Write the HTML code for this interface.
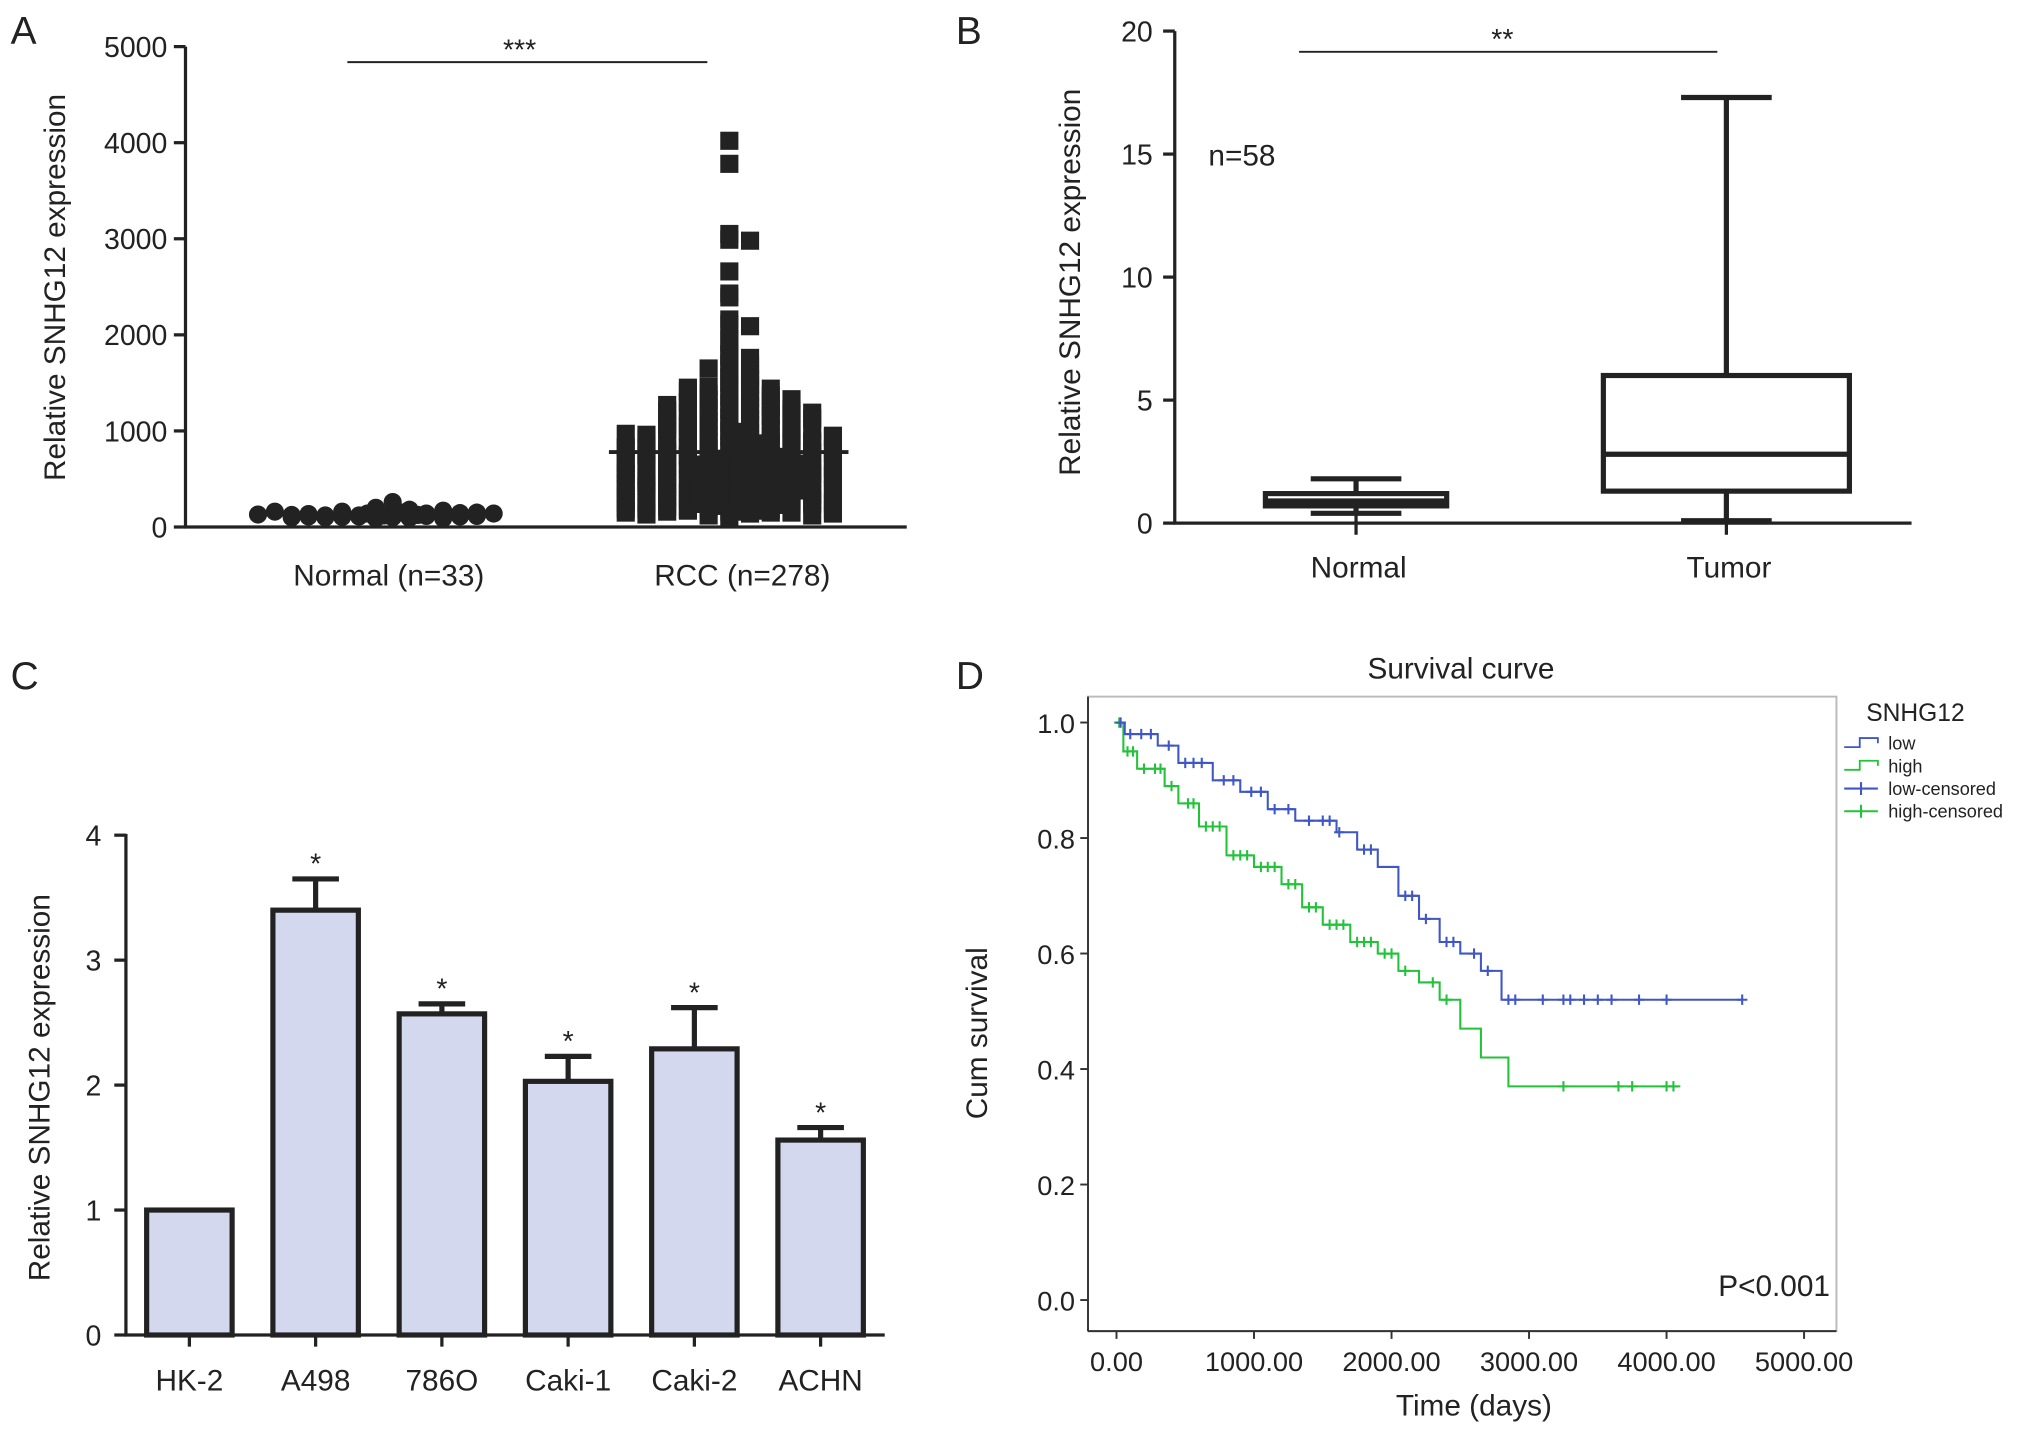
<!DOCTYPE html>
<html><head><meta charset="utf-8"><style>
html,body{margin:0;padding:0;background:#fff}
svg{display:block}
text{font-family:"Liberation Sans",Arial,sans-serif;fill:#222}
</style></head><body>
<svg id="fig" width="2031" height="1436" viewBox="0 0 1568 1109" xmlns="http://www.w3.org/2000/svg">
<g id="A"></g>
<g id="B"></g>
<g id="C"></g>
<g id="D"></g>
</svg>
<script>
// ---- Panel A data ----
const aGroups = ["Normal (n=33)", "RCC (n=278)"];
const aNormal = [150,130,120,180,90,100,160,140,110,200,120,95,105,170,135,115,145,125,260,150,100,90,110,160,140,130,120,150,110,100,140,125,115];
const aRCC = [4020,3780,3050,2990,2980,2660,2430,2390,2160,2110,2090,1960,1920,1800,1780,1760,1700,1680,1650,1620,1580,1560,1540,1500,1480,1460,1440,1420,1400,1380,1360,1340,1320,1300,1280,1260,1240,1220,1200,1180,1160,1140,1120,1100,1080,1060,1040,1020,1000,980,960,940,920,900,880,860,840,820,800,780,760,740,720,700,680,660,640,620,600,580,560,540,520,500,480,460,440,420,400,380,360,340,320,300,280,260,240,220,200,180,160,140,120,100,1300,1250,1150,1050,950,850,750,650,550,450,350,250,150,1290,1190,1090,990,890,790,690,590,490,390,290,190,1230,1130,1030,930,830,730,630,530,430,330,230,1270,1170,970,870,770,670,570,470,370,270,170,1210,1010,910,810,710,610,510,410,310,210,1110,1070,1010,960,870,780,690,600,510,420,330,240,150,820,730,640,550,460,370,280,190,700,610,520,430,340,250,160,120,130,140,150,160,170,180,190,200,210,220,230,240,250,260,270,280,290,300,310,320,330,340,350,360,370,380,390,400,410,420,430,440,450,460,470,480,490,500,510,520,530,540,550,560,570,580,590,600,610,620,630,640,650,660,670,680,690,710,730,750,770,790,810,830,850,870,890,910,930,950,970,990,1130,1190,1330,1370,1410,1450];
const aMedians = [130, 780];
const aYTicks = [0,1000,2000,3000,4000,5000];
// ---- Panel B data ----
const bGroups = ["Normal","Tumor"];
const bMin = [0.4, 0.1];
const bQ1 = [0.7, 1.3];
const bMed = [0.9, 2.8];
const bQ3 = [1.2, 6.0];
const bMax = [1.8, 17.3];
const bYTicks = [0,5,10,15,20];
// ---- Panel C data ----
const cCells = ["HK-2","A498","786O","Caki-1","Caki-2","ACHN"];
const cVals = [1.0,3.4,2.57,2.03,2.29,1.56];
const cErr = [0,0.25,0.08,0.2,0.33,0.1];
const cStar = [false,true,true,true,true,true];
const cYTicks = [0,1,2,3,4];
// ---- Panel D data ----
const dLowT = [0,60,300,450,700,900,1100,1300,1600,1750,1900,2050,2200,2350,2500,2650,2800,4550];
const dLowS = [1.0,0.98,0.96,0.93,0.90,0.88,0.85,0.83,0.81,0.78,0.75,0.70,0.66,0.62,0.60,0.57,0.52,0.52];
const dHighT = [0,50,150,350,450,600,800,1000,1200,1350,1500,1700,1900,2050,2200,2350,2500,2650,2850,4100];
const dHighS = [1.0,0.95,0.92,0.89,0.86,0.82,0.77,0.75,0.72,0.68,0.65,0.62,0.60,0.57,0.55,0.52,0.47,0.42,0.37,0.37];
const dLowCens = [30,100,180,250,380,500,560,620,780,850,980,1050,1150,1250,1400,1500,1550,1620,1800,1850,2100,2150,2250,2400,2450,2600,2700,2850,2900,3100,3250,3300,3400,3500,3600,3800,4000,4550];
const dHighCens = [20,80,120,200,280,320,400,520,560,650,700,750,850,900,950,1050,1100,1150,1250,1300,1400,1450,1550,1600,1650,1750,1800,1850,1950,2000,2100,2300,2400,3250,3650,3750,4000,4050];
const dXTicks = [0,1000,2000,3000,4000,5000];
const dYTicks = [0,0.2,0.4,0.6,0.8,1.0];

const NS="http://www.w3.org/2000/svg";
function mk(parent,tag,attrs,txt){const e=document.createElementNS(NS,tag);for(const k in attrs)e.setAttribute(k,attrs[k]);if(txt!==undefined)e.textContent=txt;parent.appendChild(e);return e;}
function stepVal(T,S,t){let s=S[0];for(let i=0;i<T.length;i++){if(T[i]<=t)s=S[i];}return s;}
function jitter(c,step,ncols){const k=c%ncols;const layer=Math.floor(c/ncols);const off=((k%2)?1:-1)*Math.ceil(k/2)*step;return off+(layer%2?step/2:0);}

// ===== Panel A =====
(function(){
const g=document.getElementById('A');
const y=v=>407-v*(371/5000);
const xc=[290,563];
let t=mk(g,'text',{x:8,y:34,'font-size':30},'A');


let ax=mk(g,'line',{x1:143,y1:36,x2:143,y2:408,stroke:'#222','stroke-width':2.5});


ax=mk(g,'line',{x1:142,y1:407,x2:700,y2:407,stroke:'#222','stroke-width':2.5});


aYTicks.forEach(v=>{
 mk(g,'line',{x1:134,y1:y(v),x2:143,y2:y(v),stroke:'#222','stroke-width':2.5});
 const tl=mk(g,'text',{x:129,y:y(v)+8,'font-size':22,'text-anchor':'end'},String(v));
 
 
});
const yt=mk(g,'text',{x:0,y:0,'font-size':23,'text-anchor':'middle',transform:'translate(50,222) rotate(-90)'},'Relative SNHG12 expression');


aGroups.forEach((n,i)=>{
 const tl=mk(g,'text',{x:xc[i]+10,y:452,'font-size':23,'text-anchor':'middle'},n);
 
 
});
const bins={};
aNormal.forEach(v=>{
 const k=Math.round(v/80);const c=bins[k]||0;bins[k]=c+1;
 const d=mk(g,'circle',{cx:xc[0]+jitter(c,13,15),cy:y(v),r:7,fill:'#222'});
 
 
});
const rb={};
aRCC.forEach(v=>{
 const k=Math.round(v/70);const c=rb[k]||0;rb[k]=c+1;
 const d=mk(g,'rect',{x:xc[1]+jitter(c,16,11)-7,y:y(v)-7,width:14,height:14,fill:'#222'});
 
 
});
[[195,382],[470,655]].forEach((r,i)=>{
 const m=mk(g,'line',{x1:r[0],x2:r[1],y1:y(aMedians[i]),y2:y(aMedians[i]),stroke:'#222','stroke-width':3});
 
 
});
const s=mk(g,'line',{x1:268,x2:546,y1:48,y2:48,stroke:'#222','stroke-width':1.5});


const st=mk(g,'text',{x:401,y:46,'font-size':22,'text-anchor':'middle'},'***');


})();

// ===== Panel B =====
(function(){
const g=document.getElementById('B');
const y=v=>404-v*(380/20);
const xc=[1047,1333], hw=[70,95];
let t=mk(g,'text',{x:738,y:34,'font-size':30},'B');


let ax=mk(g,'line',{x1:907,y1:24,x2:907,y2:405,stroke:'#222','stroke-width':2.5});


ax=mk(g,'line',{x1:906,y1:404,x2:1476,y2:404,stroke:'#222','stroke-width':2.5});


bYTicks.forEach(v=>{
 mk(g,'line',{x1:898,y1:y(v),x2:907,y2:y(v),stroke:'#222','stroke-width':2.5});
 const tl=mk(g,'text',{x:890,y:y(v)+8,'font-size':22,'text-anchor':'end'},String(v));
 
 
});
const yt=mk(g,'text',{x:0,y:0,'font-size':23,'text-anchor':'middle',transform:'translate(834,218) rotate(-90)'},'Relative SNHG12 expression');


bGroups.forEach((n,i)=>{
 mk(g,'line',{x1:xc[i],y1:396,x2:xc[i],y2:413,stroke:'#222','stroke-width':2.5});
 const tl=mk(g,'text',{x:xc[i]+2,y:446,'font-size':23,'text-anchor':'middle'},n);
 
 
 const bx=mk(g,'g',{});
 
 
 const sw=4;
 mk(bx,'line',{x1:xc[i],x2:xc[i],y1:y(bMax[i]),y2:y(bQ3[i]),stroke:'#222','stroke-width':sw});
 mk(bx,'line',{x1:xc[i],x2:xc[i],y1:y(bQ1[i]),y2:y(bMin[i]),stroke:'#222','stroke-width':sw});
 mk(bx,'line',{x1:xc[i]-35,x2:xc[i]+35,y1:y(bMax[i]),y2:y(bMax[i]),stroke:'#222','stroke-width':sw});
 mk(bx,'line',{x1:xc[i]-35,x2:xc[i]+35,y1:y(bMin[i]),y2:y(bMin[i]),stroke:'#222','stroke-width':sw});
 mk(bx,'rect',{x:xc[i]-hw[i],y:y(bQ3[i]),width:hw[i]*2,height:y(bQ1[i])-y(bQ3[i]),fill:'#fff',stroke:'#222','stroke-width':sw});
 mk(bx,'line',{x1:xc[i]-hw[i],x2:xc[i]+hw[i],y1:y(bMed[i]),y2:y(bMed[i]),stroke:'#222','stroke-width':sw});
});
const n=mk(g,'text',{x:933,y:128,'font-size':23},'n=58');


const s=mk(g,'line',{x1:1003,x2:1326,y1:40,y2:40,stroke:'#222','stroke-width':1.5});


const st=mk(g,'text',{x:1160,y:38,'font-size':22,'text-anchor':'middle'},'**');


})();

// ===== Panel C =====
(function(){
const g=document.getElementById('C');
const y=v=>1031-v*(386/4);
const x0=146, step=97.5, bw=66;
let t=mk(g,'text',{x:8,y:532,'font-size':30},'C');


let ax=mk(g,'line',{x1:97,y1:644,x2:97,y2:1032,stroke:'#222','stroke-width':2.5});


ax=mk(g,'line',{x1:96,y1:1031,x2:683,y2:1031,stroke:'#222','stroke-width':2.5});


cYTicks.forEach(v=>{
 mk(g,'line',{x1:88,y1:y(v),x2:97,y2:y(v),stroke:'#222','stroke-width':2.5});
 const tl=mk(g,'text',{x:78,y:y(v)+8,'font-size':22,'text-anchor':'end'},String(v));
 
 
});
const yt=mk(g,'text',{x:0,y:0,'font-size':23,'text-anchor':'middle',transform:'translate(38,840) rotate(-90)'},'Relative SNHG12 expression');


cCells.forEach((c,i)=>{
 const xc=x0+i*step;
 mk(g,'line',{x1:xc,y1:1031,x2:xc,y2:1040,stroke:'#222','stroke-width':2.5});
 const tl=mk(g,'text',{x:xc,y:1074,'font-size':23,'text-anchor':'middle'},c);
 
 
 if(cErr[i]>0){
  const e=mk(g,'g',{});
  
  
  mk(e,'line',{x1:xc,x2:xc,y1:y(cVals[i]+cErr[i]),y2:y(cVals[i]),stroke:'#222','stroke-width':4});
  mk(e,'line',{x1:xc-18,x2:xc+18,y1:y(cVals[i]+cErr[i]),y2:y(cVals[i]+cErr[i]),stroke:'#222','stroke-width':4});
 }
 const b=mk(g,'rect',{x:xc-bw/2,y:y(cVals[i]),width:bw,height:y(0)-y(cVals[i]),fill:'#d3d8ee',stroke:'#222','stroke-width':4});
 
 
 if(cStar[i]){
  const s=mk(g,'text',{x:xc,y:y(cVals[i]+cErr[i])-4,'font-size':22,'text-anchor':'middle'},'*');
  
  
 }
});
})();

// ===== Panel D =====
(function(){
const g=document.getElementById('D');
const x=t=>862+t*(531/5000);
const y=s=>1004-s*(446/1.0);
let t=mk(g,'text',{x:738,y:532,'font-size':30},'D');


const ti=mk(g,'text',{x:1128,y:524,'font-size':23,'text-anchor':'middle'},'Survival curve');


const box=mk(g,'rect',{x:840,y:538,width:578,height:490,fill:'none',stroke:'#bbb','stroke-width':1.5});


mk(g,'line',{x1:840,y1:538,x2:840,y2:1028,stroke:'#333','stroke-width':1.5});
mk(g,'line',{x1:840,y1:1028,x2:1418,y2:1028,stroke:'#333','stroke-width':1.5});
dYTicks.forEach(v=>{
 mk(g,'line',{x1:834,y1:y(v),x2:840,y2:y(v),stroke:'#333','stroke-width':1.5});
 const tl=mk(g,'text',{x:830,y:y(v)+8,'font-size':21,'text-anchor':'end'},v.toFixed(1));
 
 
});
dXTicks.forEach(v=>{
 mk(g,'line',{x1:x(v),y1:1028,x2:x(v),y2:1034,stroke:'#333','stroke-width':1.5});
 const tl=mk(g,'text',{x:x(v),y:1059,'font-size':21,'text-anchor':'middle'},v.toFixed(2));
 
 
});
const yt=mk(g,'text',{x:0,y:0,'font-size':23,'text-anchor':'middle',transform:'translate(762,798) rotate(-90)'},'Cum survival');


const xt=mk(g,'text',{x:1138,y:1093,'font-size':23,'text-anchor':'middle'},'Time (days)');


function curve(T,S,C,col,name){
 let d='M'+x(T[0])+','+y(S[0]);
 for(let i=1;i<T.length;i++){d+=' H'+x(T[i])+' V'+y(S[i]);}
 const p=mk(g,'path',{d:d,fill:'none',stroke:col,'stroke-width':1.6});
 
 
 C.forEach(c=>{
  const s=stepVal(T,S,c),cx=x(c),cy=y(s);
  const m=mk(g,'path',{d:`M${cx-4},${cy}H${cx+4}M${cx},${cy-4}V${cy+4}`,stroke:col,'stroke-width':1.6});
  
  
 });
}
curve(dHighT,dHighS,dHighCens,'#22c23a','high');
curve(dLowT,dLowS,dLowCens,'#3f56c6','low');
const p=mk(g,'text',{x:1413,y:1001,'font-size':23,'text-anchor':'end'},'P<0.001');


const lg=mk(g,'g',{});


const lt=mk(lg,'text',{x:1441,y:557,'font-size':19},'SNHG12');


const ent=[['low','#3f56c6',0],['high','#22c23a',0],['low-censored','#3f56c6',1],['high-censored','#22c23a',1]];
ent.forEach((e,i)=>{
 const yy=574+i*17.5;
 const eg=mk(lg,'g',{});
 
 
 if(e[2]) mk(eg,'path',{d:`M1424,${yy}H1450M1437,${yy-5}V${yy+5}`,stroke:e[1],'stroke-width':1.6});
 else mk(eg,'path',{d:`M1424,${yy+3}H1436V${yy-4}H1450V${yy}`,fill:'none',stroke:e[1],'stroke-width':1.4});
 mk(eg,'text',{x:1458,y:yy+5,'font-size':14},e[0]);
});
})();
</script>
</body></html>
